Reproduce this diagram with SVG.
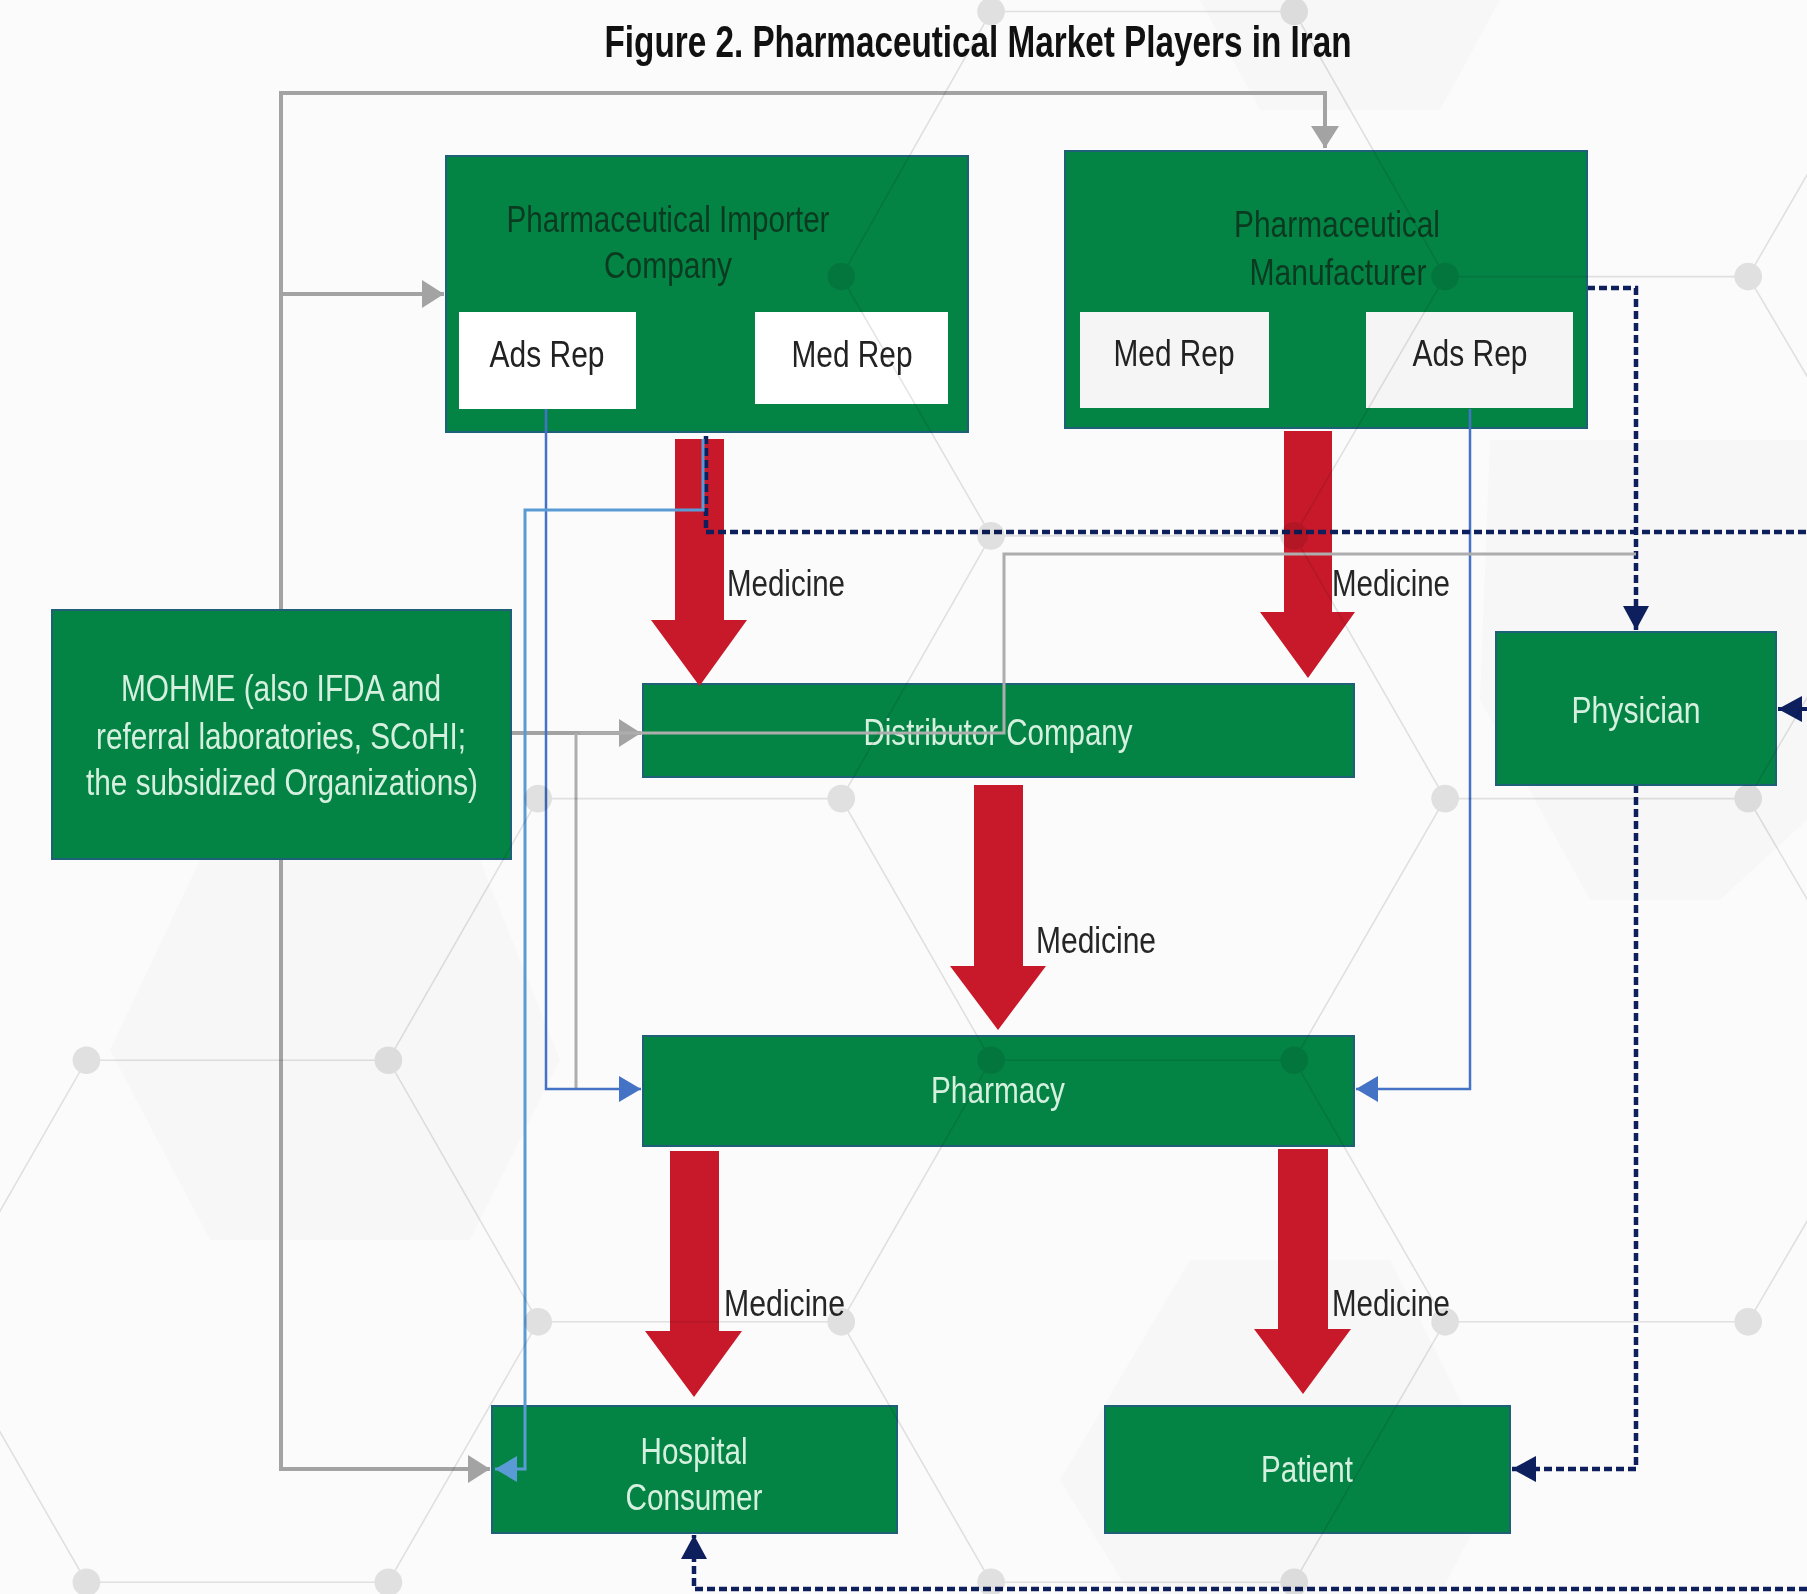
<svg xmlns="http://www.w3.org/2000/svg" width="1807" height="1594" viewBox="0 0 1807 1594">
<style>
.t{font-family:"Liberation Sans",Arial,sans-serif;font-size:36px;text-anchor:middle}
.box{fill:#038445;stroke:#1f6079;stroke-width:2}
.rep{fill:#fff}
.repm{fill:#f5f5f5}
.dk{fill:#0c3a20}
.lt{fill:#d6f0df}
.bk{fill:#222}
.med{fill:#262626;text-anchor:start}
.red{fill:#c8192a}
.gray{fill:none;stroke:#a3a3a3;stroke-width:4}
.thin{fill:none;stroke:#adadad;stroke-width:3}
.blue{fill:none;stroke:#4472c4;stroke-width:2.5}
.sky{fill:none;stroke:#5b9bd5;stroke-width:3}
.navy{fill:none;stroke:#0d1f5c;stroke-width:4.500;stroke-dasharray:8 4}
.hl{fill:none;stroke:#e4e4e4;stroke-width:1.400}
.hn{fill:#e4e4e4}
.pale{fill:#f7f7f7}
</style>
<defs>
<marker id="mg" markerUnits="userSpaceOnUse" markerWidth="24" markerHeight="32" refX="22" refY="16" orient="auto"><path d="M0 2L22 16L0 30z" fill="#a3a3a3"/></marker>
<marker id="mb" markerUnits="userSpaceOnUse" markerWidth="24" markerHeight="32" refX="22" refY="15" orient="auto"><path d="M0 2L22 15L0 28z" fill="#4472c4"/></marker>
<marker id="ms" markerUnits="userSpaceOnUse" markerWidth="24" markerHeight="32" refX="22" refY="15" orient="auto"><path d="M0 2L22 15L0 28z" fill="#5b9bd5"/></marker>
<marker id="mn" markerUnits="userSpaceOnUse" markerWidth="26" markerHeight="32" refX="24" refY="15" orient="auto"><path d="M0 2L24 15L0 28z" fill="#0d1f5c"/></marker>
</defs>
<rect width="1807" height="1594" fill="#fbfbfb"/>
<g id="background-shapes">
<path class="pale" d="M1190 1260H1390L1500 1480L1440 1594H1130L1060 1480Z"/>
<path class="pale" d="M1490 440H1807V820L1720 900H1590L1480 700Z"/>
<path class="pale" d="M1200 0H1500L1440 110H1260Z"/>
<path class="pale" d="M200 860H480L560 1060L470 1240H210L110 1050Z"/>
</g>
<g id="connectors">
<path class="gray" d="M281 610V93H1325V148" marker-end="url(#mg)"/>
<path class="gray" d="M281 294H444" marker-end="url(#mg)"/>
<path class="gray" d="M281 859V1469H490" marker-end="url(#mg)"/>
<path class="gray" d="M511 733H641" marker-end="url(#mg)"/>
<path class="thin" d="M576 733V1089"/>
<path class="navy" d="M1807 1589H694V1535" marker-end="url(#mn)"/>
<path class="navy" d="M1636 785V1469H1512" marker-end="url(#mn)"/>
<path class="navy" d="M1587 288H1636V630" marker-end="url(#mn)"/>
<path d="M1807 709H1778" fill="none" stroke="#0d1f5c" stroke-width="4" marker-end="url(#mn)"/>
</g>
<g id="importer"><rect class="box" x="446" y="156" width="522" height="276"/>
<text class="t dk" x="668" y="232" textLength="323" lengthAdjust="spacingAndGlyphs">Pharmaceutical Importer</text>
<text class="t dk" x="668" y="278" textLength="128" lengthAdjust="spacingAndGlyphs">Company</text></g>
<g id="importer-ads-rep"><rect class="rep" x="459" y="312" width="177" height="97"/>
<text class="t bk" x="547" y="367" textLength="115" lengthAdjust="spacingAndGlyphs">Ads Rep</text></g>
<g id="importer-med-rep"><rect class="rep" x="755" y="312" width="193" height="92"/>
<text class="t bk" x="852" y="367" textLength="121" lengthAdjust="spacingAndGlyphs">Med Rep</text></g>
<g id="manufacturer"><rect class="box" x="1065" y="151" width="522" height="277"/>
<text class="t dk" x="1337" y="237" textLength="206" lengthAdjust="spacingAndGlyphs">Pharmaceutical</text>
<text class="t dk" x="1338" y="285" textLength="177" lengthAdjust="spacingAndGlyphs">Manufacturer</text></g>
<g id="manufacturer-med-rep"><rect class="repm" x="1080" y="312" width="189" height="96"/>
<text class="t bk" x="1174" y="366" textLength="121" lengthAdjust="spacingAndGlyphs">Med Rep</text></g>
<g id="manufacturer-ads-rep"><rect class="repm" x="1366" y="312" width="207" height="96"/>
<text class="t bk" x="1470" y="366" textLength="115" lengthAdjust="spacingAndGlyphs">Ads Rep</text></g>
<g id="mohme"><rect class="box" x="52" y="610" width="459" height="249"/>
<text class="t lt" x="281" y="701" textLength="320" lengthAdjust="spacingAndGlyphs">MOHME (also IFDA and</text>
<text class="t lt" x="281" y="749" textLength="370" lengthAdjust="spacingAndGlyphs">referral laboratories, SCoHI;</text>
<text class="t lt" x="282" y="795" textLength="392" lengthAdjust="spacingAndGlyphs">the subsidized Organizations)</text></g>
<g id="distributor"><rect class="box" x="643" y="684" width="711" height="93"/>
<text class="t lt" x="998" y="745" textLength="269" lengthAdjust="spacingAndGlyphs">Distributor Company</text></g>
<g id="pharmacy"><rect class="box" x="643" y="1036" width="711" height="110"/>
<text class="t lt" x="998" y="1103" textLength="134" lengthAdjust="spacingAndGlyphs">Pharmacy</text></g>
<g id="physician"><rect class="box" x="1496" y="632" width="280" height="153"/>
<text class="t lt" x="1636" y="723" textLength="129" lengthAdjust="spacingAndGlyphs">Physician</text></g>
<g id="hospital-consumer"><rect class="box" x="492" y="1406" width="405" height="127"/>
<text class="t lt" x="694" y="1464" textLength="107" lengthAdjust="spacingAndGlyphs">Hospital</text>
<text class="t lt" x="694" y="1510" textLength="137" lengthAdjust="spacingAndGlyphs">Consumer</text></g>
<g id="patient"><rect class="box" x="1105" y="1406" width="405" height="127"/>
<text class="t lt" x="1307" y="1482" textLength="92" lengthAdjust="spacingAndGlyphs">Patient</text></g>
<g id="medicine-flows">
<path class="red" d="M675 439H724V620H747L699.500 686L651 620H675Z"/>
<path class="red" d="M1284 431H1332V612H1355L1308 678L1260 612H1284Z"/>
<path class="red" d="M974 785H1023V966H1046L998 1030L950 966H974Z"/>
<path class="red" d="M670 1151H719V1331H742L694 1397L645 1331H670Z"/>
<path class="red" d="M1278 1149H1328V1329H1351L1303 1394L1254 1329H1278Z"/>
<text class="t med" x="727" y="596" textLength="118" lengthAdjust="spacingAndGlyphs">Medicine</text>
<text class="t med" x="1332" y="596" textLength="118" lengthAdjust="spacingAndGlyphs">Medicine</text>
<text class="t med" x="1036" y="953" textLength="120" lengthAdjust="spacingAndGlyphs">Medicine</text>
<text class="t med" x="724" y="1316" textLength="121" lengthAdjust="spacingAndGlyphs">Medicine</text>
<text class="t med" x="1332" y="1316" textLength="118" lengthAdjust="spacingAndGlyphs">Medicine</text>
</g>
<g id="connectors-over">
<path class="blue" d="M546 409V1089H641" marker-end="url(#mb)"/>
<path class="blue" d="M1470 409V1089H1356" marker-end="url(#mb)"/>
<path class="thin" d="M580 733H1004V554H1636"/>
<path class="navy" d="M706 436V532H1807"/>
<path class="sky" d="M703 439V510H525V1469H495" marker-end="url(#ms)"/>
</g>
<g id="hex-network" style="mix-blend-mode:multiply" transform="scale(1.1524)">
<path class="hl" d="M75 920H337L467 1147L337 1373H75L-55 1147ZM467 693H730L860 920L730 1147H467M467 693L337 920M860 920H1123L1254 1147H1517L1650 920L1517 693H1254L1123 920M730 693L860 465H1123L1254 693M860 465L730 240L860 10H1123L1254 240H1517L1650 465L1517 693M1254 240L1123 465M1517 240L1650 10M730 1147L860 1373H1123L1254 1147"/>
<g class="hn">
<circle cx="860" cy="10" r="12"/><circle cx="1123" cy="10" r="12"/><circle cx="730" cy="240" r="12"/><circle cx="1254" cy="240" r="12"/><circle cx="1517" cy="240" r="12"/><circle cx="860" cy="465" r="12"/><circle cx="1123" cy="465" r="12"/><circle cx="467" cy="693" r="12"/><circle cx="730" cy="693" r="12"/><circle cx="1254" cy="693" r="12"/><circle cx="1517" cy="693" r="12"/><circle cx="75" cy="920" r="12"/><circle cx="337" cy="920" r="12"/><circle cx="860" cy="920" r="12"/><circle cx="1123" cy="920" r="12"/><circle cx="467" cy="1147" r="12"/><circle cx="730" cy="1147" r="12"/><circle cx="1254" cy="1147" r="12"/><circle cx="1517" cy="1147" r="12"/><circle cx="75" cy="1373" r="12"/><circle cx="337" cy="1373" r="12"/><circle cx="860" cy="1373" r="12"/><circle cx="1123" cy="1373" r="12"/>
</g>
</g>
<g id="title"><text x="978" y="57" font-family="Liberation Sans, Arial, sans-serif" font-size="44" font-weight="700" text-anchor="middle" fill="#111" textLength="747" lengthAdjust="spacingAndGlyphs">Figure 2. Pharmaceutical Market Players in Iran</text></g>
</svg>
